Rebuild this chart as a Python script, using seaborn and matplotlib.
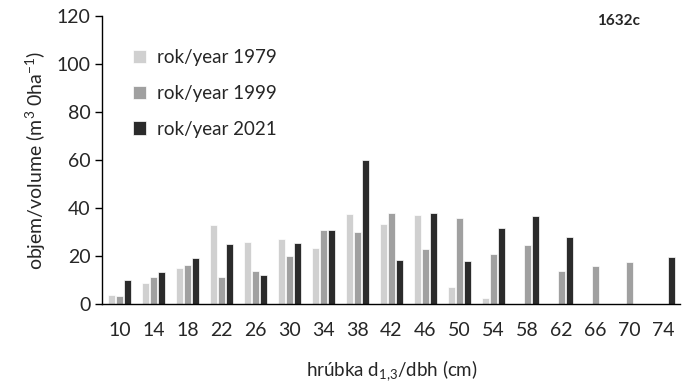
import pandas as pd
import matplotlib.pyplot as plt
import seaborn as sns
import numpy as np

dbh = ['10', '14', '18', '22', '26', '30', '34', '38', '42', '46', '50', '54', '58', '62', '66', '70', '74']
vol_1979 = [4, 9, 15, 33, 26, 27, 23.5, 37.5, 33.5, 37, 7, 2.6, 0, 0, 0, 0, 0]
vol_1999 = [3.5, 11.5, 16.5, 11.5, 14, 20, 31, 30, 38, 23, 36, 21, 24.5, 13.8, 15.7, 17.5, 0]
vol_2021 = [10, 13.5, 19, 25, 12, 25.5, 31, 60, 18.5, 38, 18, 31.5, 36.7, 27.8, 0, 0, 19.6]
years = ['rok/year 1979', 'rok/year 1999', 'rok/year 2021']
colors = ['#d0d0d0', '#a0a0a0', '#2b2b2b']

df = pd.DataFrame({
    'dbh': dbh * 3,
    'vol': vol_1979 + vol_1999 + vol_2021,
    'year': [y for y in years for _ in dbh],
})

sns.set_style('white')
plt.rcParams['font.family'] = ['Lato', 'DejaVu Sans']
plt.rcParams['mathtext.fontset'] = 'custom'
plt.rcParams['mathtext.rm'] = 'Lato'
plt.rcParams['mathtext.it'] = 'Lato'
plt.rcParams['mathtext.default'] = 'rm'

fig, ax = plt.subplots(figsize=(6.92, 3.89), dpi=100)
sns.barplot(data=df, x='dbh', y='vol', hue='year', palette=colors, width=0.72, gap=0.12,
            edgecolor='white', linewidth=0.5, ax=ax)

ax.set_ylim(0, 120)
ax.set_yticks(range(0, 121, 20))
ax.set_xlim(-0.5, len(dbh) - 0.5)
ax.set_xticks(np.arange(-0.5, len(dbh), 1), minor=True)
ax.tick_params(axis='x', which='major', length=0, labelsize=14, pad=13)
ax.tick_params(axis='x', which='minor', length=5, width=1, direction='out', color='black')
ax.tick_params(axis='y', length=5, width=1, direction='out', color='black', labelsize=14, left=True)
for s in ['top', 'right']:
    ax.spines[s].set_visible(False)
for s in ['left', 'bottom']:
    ax.spines[s].set_color('black')
    ax.spines[s].set_linewidth(1)

ax.set_xlabel('hrúbka d$_{1{,}3}$/dbh (cm)', fontsize=13.5, labelpad=14)
ax.set_ylabel('objem/volume (m$^{3}$ 0ha$^{-1}$)', fontsize=14, labelpad=6)
ax.text(0.93, 0.98, '1632c', transform=ax.transAxes, fontsize=11, fontweight='bold', ha='right', va='center')

ax.legend(loc='upper left', bbox_to_anchor=(0.04, 0.91), frameon=False, fontsize=13.5,
          handlelength=0.7, handleheight=0.7, labelspacing=1.0, handletextpad=0.6,
          borderaxespad=0)

fig.subplots_adjust(left=0.148, right=0.983, top=0.96, bottom=0.218)
fig.savefig('out.png', dpi=100)
